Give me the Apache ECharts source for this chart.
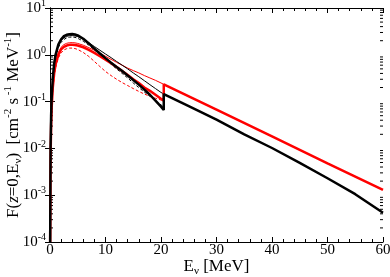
<!DOCTYPE html>
<html><head><meta charset="utf-8">
<script src="https://cdn.jsdelivr.net/npm/echarts@6/dist/echarts.min.js"></script>
<style>html,body{margin:0;padding:0;background:#fff}#c{width:390px;height:277px}</style>
</head><body><div id="c"></div>
<script>
// Energy grid below the cut (MeV)
var eLow = [0.03,0.1,0.2,0.3,0.5,0.75,1,1.5,2,2.5,3,3.5,4,4.5,5,6,7,8,9,10,11,12,13,14,15,16,17,18,19,20,20.5];
// Thick black: below cut, then above
var blackThickLow = [0.0001,0.01,0.05,0.12,0.32,0.65,1.0,1.65,2.15,2.5,2.68,2.76,2.78,2.72,2.6,2.2,1.75,1.35,1.07,0.85,0.68,0.55,0.45,0.36,0.29,0.23,0.18,0.14,0.105,0.078,0.066];
var eHighBlack = [20.5,25,30,35,40,45,50,55,60];
var blackThickHigh = [0.145,0.08,0.041,0.02,0.0102,0.0049,0.0023,0.00105,0.00042];
// Thin black solid
var blackThin = [0.0001,0.009,0.045,0.11,0.3,0.6,0.93,1.55,2.0,2.3,2.48,2.56,2.57,2.53,2.45,2.14,1.8,1.5,1.25,1.04,0.87,0.72,0.6,0.5,0.41,0.34,0.28,0.23,0.19,0.157,0.145];
// Thin black dashed
var blackDash = [0.0001,0.008,0.04,0.1,0.27,0.55,0.85,1.42,1.85,2.12,2.3,2.38,2.4,2.36,2.25,1.95,1.6,1.28,1.02,0.8,0.63,0.5,0.4,0.32,0.25,0.2,0.16,0.13,0.105,0.085,0.078];
// Thick red: below cut, then above
var redThickLow = [0.0001,0.006,0.03,0.075,0.2,0.4,0.62,1.0,1.3,1.48,1.58,1.63,1.64,1.62,1.58,1.45,1.28,1.1,0.93,0.79,0.66,0.55,0.45,0.37,0.3,0.25,0.2,0.17,0.14,0.115,0.105];
var eHighRed = [20.5,30,40,50,60];
var redThickHigh = [0.234,0.0676,0.018,0.0048,0.0013];
// Thin red solid
var redThin = [0.0001,0.007,0.035,0.085,0.22,0.45,0.7,1.12,1.45,1.65,1.76,1.81,1.82,1.8,1.75,1.6,1.42,1.25,1.08,0.93,0.8,0.69,0.6,0.52,0.46,0.41,0.36,0.32,0.285,0.25,0.234];
// Thin red dashed
var redDash = [0.0001,0.005,0.025,0.065,0.17,0.34,0.52,0.85,1.1,1.27,1.35,1.39,1.39,1.36,1.3,1.12,0.92,0.72,0.56,0.44,0.36,0.3,0.255,0.22,0.19,0.165,0.145,0.13,0.118,0.108,0.104];
// Axis ticks
var xTicks = [0,10,20,30,40,50,60];
var yDecades = [-4,-3,-2,-1,0,1];
var yMinorMult = [2,3,4,5,6,7,8,9];

function zip(xs, ys){ return xs.map(function(x,i){ return [x, ys[i]]; }); }
var minorVals = [];
yDecades.slice(0,-1).forEach(function(d){ yMinorMult.forEach(function(m){ minorVals.push([0, m*Math.pow(10,d)]); }); });

var FONT = 'Liberation Serif';
var chart = echarts.init(document.getElementById('c'));
function yLab(v){
  var e = Math.round(Math.log10(v));
  return '{b|10}{s|' + (e < 0 ? '-' + (-e) : e) + '}';
}
var labRich = { b:{fontFamily:FONT,fontSize:15,color:'#000'}, s:{fontFamily:FONT,fontSize:10,color:'#000',padding:[0,0,9,0]} };
var nameRich = {
  n:{fontFamily:FONT,fontSize:17,color:'#000'},
  i:{fontFamily:FONT,fontSize:17,color:'#000',fontStyle:'italic'},
  s:{fontFamily:FONT,fontSize:11,color:'#000',padding:[0,0,10,0]},
  u:{fontFamily:FONT,fontSize:11,color:'#000',padding:[10,0,0,0]}
};
var axLine = {show:true,lineStyle:{color:'#000',width:1}};
chart.setOption({
  animation:false,
  grid:{left:50,right:7,top:8,bottom:35,containLabel:false,outerBoundsMode:'none'},
  xAxis:[{
    type:'value',min:0,max:60,interval:10,position:'bottom',
    axisLine:axLine, splitLine:{show:false},
    axisTick:{inside:true,length:5,lineStyle:{color:'#000'}},
    minorTick:{show:true,splitNumber:5,length:3,lineStyle:{color:'#000'}},
    axisLabel:{fontFamily:FONT,fontSize:15,color:'#000',margin:1,
      formatter:function(v){ return xTicks.indexOf(v)>=0 ? String(v) : ''; }},
    name:'{n|E}{u|ν}{n| [MeV]}',nameLocation:'middle',nameGap:14,nameMoveOverlap:false,
    nameTextStyle:{rich:nameRich}
  },{
    type:'value',min:0,max:60,interval:10,position:'top',
    axisLine:axLine, splitLine:{show:false},
    axisTick:{inside:true,length:5,lineStyle:{color:'#000'}},
    minorTick:{show:true,splitNumber:5,length:3,lineStyle:{color:'#000'}},
    axisLabel:{show:false}
  }],
  yAxis:[{
    type:'log',logBase:10,min:1e-4,max:10,position:'left',
    axisLine:axLine, splitLine:{show:false},
    axisTick:{inside:true,length:5,lineStyle:{color:'#000'}},
    axisLabel:{margin:4,formatter:yLab,rich:labRich},
    name:'{n|F(}{i|z}{n|=0,E}{u|ν}{n|)  [cm}{s|-2}{n| s}{s| -1}{n| MeV}{s|-1}{n|]}',
    nameLocation:'middle',nameGap:26,nameRotate:90,nameMoveOverlap:false,
    nameTextStyle:{rich:nameRich}
  },{
    type:'log',logBase:10,min:1e-4,max:10,position:'right',
    axisLine:axLine, splitLine:{show:false},
    axisTick:{inside:true,length:5,lineStyle:{color:'#000'}},
    axisLabel:{show:false}
  }],
  series:[
    {type:'custom',xAxisIndex:0,yAxisIndex:0,silent:true,clip:false,z:1,
     data:minorVals,
     renderItem:function(params,api){
       var p = api.coord([0, api.value(1)]);
       var q = api.coord([60, api.value(1)]);
       var st = {stroke:'#000',lineWidth:1};
       return {type:'group',children:[
         {type:'line',shape:{x1:p[0],y1:p[1],x2:p[0]+3,y2:p[1]},style:st},
         {type:'line',shape:{x1:q[0]-3,y1:q[1],x2:q[0],y2:q[1]},style:st}
       ]};
     }},
    {type:'line',data:zip(eLow,redDash),showSymbol:false,lineStyle:{color:'#ff0000',width:1,type:[3,2]},z:2},
    {type:'line',data:zip(eLow,blackDash),showSymbol:false,lineStyle:{color:'#000',width:1,type:[3,2]},z:2},
    {type:'line',data:zip(eLow,redThin),showSymbol:false,lineStyle:{color:'#ff0000',width:1},z:2},
    {type:'line',data:zip(eLow,blackThin),showSymbol:false,lineStyle:{color:'#000',width:1},z:2},
    {type:'line',data:zip(eLow,redThickLow).concat(zip(eHighRed,redThickHigh)),showSymbol:false,lineStyle:{color:'#ff0000',width:2.5},z:3},
    {type:'line',data:zip(eLow,blackThickLow).concat(zip(eHighBlack,blackThickHigh)),showSymbol:false,lineStyle:{color:'#000',width:2.5},z:4}
  ]
});
</script></body></html>
